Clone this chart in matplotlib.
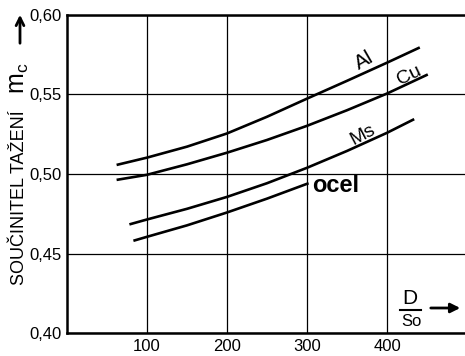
import matplotlib.pyplot as plt
from matplotlib.patches import FancyArrowPatch

plt.rcParams['font.family'] = ['Liberation Sans', 'DejaVu Sans']

# curve values (D/s0 -> m_c)
al_x = [62, 100, 150, 200, 250, 300, 350, 400, 441]
al_y = [0.5057, 0.5103, 0.5172, 0.5255, 0.5360, 0.5474, 0.5586, 0.570, 0.5796]
cu_x = [62, 100, 150, 200, 250, 300, 350, 400, 451]
cu_y = [0.4963, 0.4995, 0.5061, 0.5134, 0.5214, 0.5303, 0.5401, 0.5506, 0.5626]
ms_x = [78, 100, 150, 200, 250, 300, 350, 400, 434]
ms_y = [0.4683, 0.4714, 0.4781, 0.4856, 0.4942, 0.5039, 0.5145, 0.5259, 0.5345]
ocel_x = [83, 100, 150, 200, 250, 302]
ocel_y = [0.458, 0.4605, 0.4677, 0.4758, 0.4845, 0.4942]

xticks = [100, 200, 300, 400]
yticks = [0.40, 0.45, 0.50, 0.55, 0.60]
ytick_labels = ["0,40", "0,45", "0,50", "0,55", "0,60"]

W, H = 465, 356
fig = plt.figure(figsize=(W / 100, H / 100), dpi=100)
ax = fig.add_axes([67 / W, 23 / H, (W - 67) / W, 318 / H])

for xs, ys in [(al_x, al_y), (cu_x, cu_y), (ms_x, ms_y), (ocel_x, ocel_y)]:
    ax.plot(xs, ys, color="black", lw=1.9, solid_capstyle="butt",
            solid_joinstyle="round")

ax.set_xlim(0, (W - 67) / 0.8)
ax.set_ylim(0.40, 0.60)
ax.set_xticks(xticks)
ax.set_yticks(yticks)
ax.set_yticklabels(ytick_labels)
ax.tick_params(length=0, labelsize=12, pad=4)
ax.grid(True, color="black", lw=0.9)
ax.set_axisbelow(True)
for side in ["left", "bottom", "top"]:
    ax.spines[side].set_linewidth(1.8)
ax.spines["right"].set_visible(False)

# curve names
ax.text(371, 0.5712, "Al", rotation=30, fontsize=15, ha="center", va="center")
ax.text(428, 0.5620, "Cu", rotation=26, fontsize=14, ha="center", va="center")
ax.text(370, 0.5247, "Ms", rotation=28, fontsize=14, ha="center", va="center")
ax.text(306, 0.4925, "ocel", fontsize=17, fontweight="bold", ha="left", va="center")


def fx(px):
    return px / W


def fy(py):
    return 1 - py / H


# y axis label with arrow
fig.text(fx(19), fy(198), "SOUČINITEL TAŽENÍ", rotation=90, fontsize=13,
         ha="center", va="center")
fig.text(fx(19), fy(78), r"$\mathregular{m_c}$", rotation=90, fontsize=18,
         ha="center", va="center")
fig.patches.append(FancyArrowPatch(
    (fx(20), fy(46)), (fx(20), fy(12)), transform=fig.transFigure,
    arrowstyle="->", mutation_scale=14, lw=2, color="black"))

# x axis label D/so with arrow
fig.text(fx(410), fy(299), "D", fontsize=15, ha="center", va="center")
fig.add_artist(plt.Line2D([fx(400), fx(421)], [fy(310), fy(310)], lw=1.5, color="black"))
fig.text(fx(411), fy(321), "So", fontsize=12, ha="center", va="center")
fig.patches.append(FancyArrowPatch(
    (fx(428), fy(308)), (fx(463), fy(308)), transform=fig.transFigure,
    arrowstyle="-|>", mutation_scale=14, lw=2, color="black"))

fig.savefig("out.png", dpi=100)
